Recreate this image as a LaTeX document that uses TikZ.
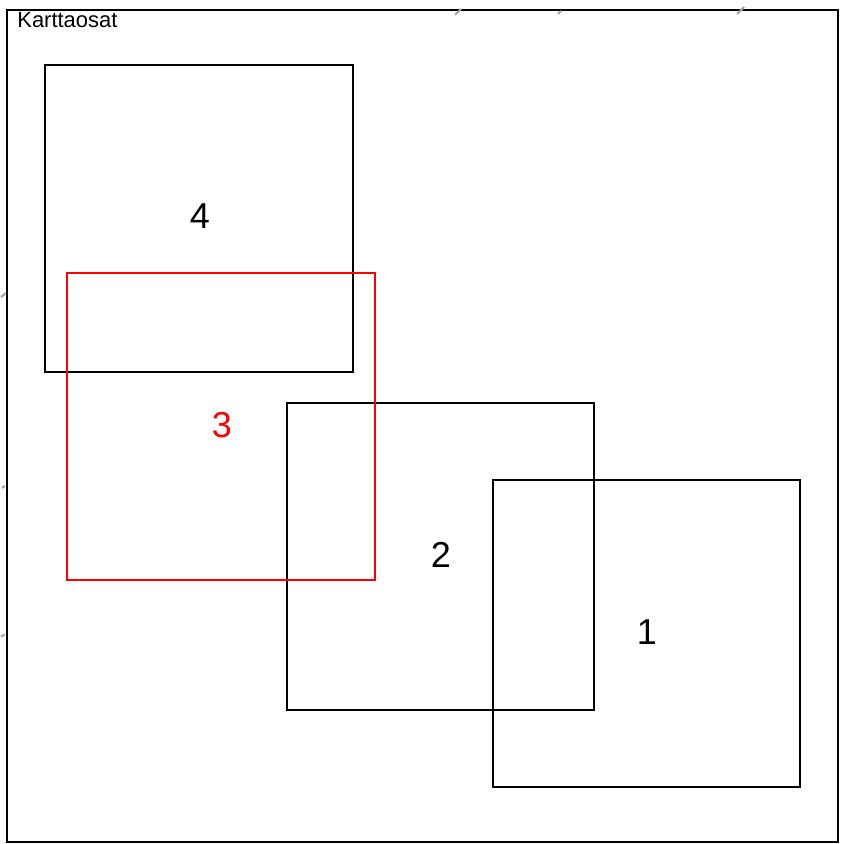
\documentclass[tikz,border=0pt]{standalone}
\usepackage{fontspec}
\setmainfont{Liberation Sans}
\begin{document}
\begin{tikzpicture}[x=0.02cm,y=-0.02cm,
    sheet/.style={draw=black,line width=0.6pt},
    part/.style={font=\fontsize{20.5}{24}\selectfont},
    tick/.style={draw=gray!70,line width=1.2pt}]

	\useasboundingbox (0,0) rectangle (840,844);

	% map frame
	\draw[sheet] (7,10) rectangle (838,842);
	\node[anchor=north west,inner sep=0pt,font=\fontsize{12.5}{15}\selectfont] (title) at (17,12) {Karttaosat};

	% clipped ticks outside the frame
	\draw[tick] (455,15) -- (461,9);
	\draw[tick] (558,14) -- (561,11);
	\draw[tick] (737,14) -- (744,7);
	\draw[tick] (1,297) -- (6,293);
	\draw[tick] (2,488) -- (5,486);
	\draw[tick] (1,636) -- (5,635);

	% sheets
	\draw[sheet] (45,65) rectangle (353,372);
	\node[part] (p4) at (200,216) {4};

	\draw[sheet] (287,403) rectangle (594,710);
	\node[part] (p2) at (441,555) {2};

	\draw[sheet] (493,480) rectangle (800,787);
	\node[part] (p1) at (647,632) {1};

	% current sheet
	\draw[sheet,draw=red] (67,273) rectangle (375,580);
	\node[part,text=red] (p3) at (222,425) {3};

\end{tikzpicture}
\end{document}
